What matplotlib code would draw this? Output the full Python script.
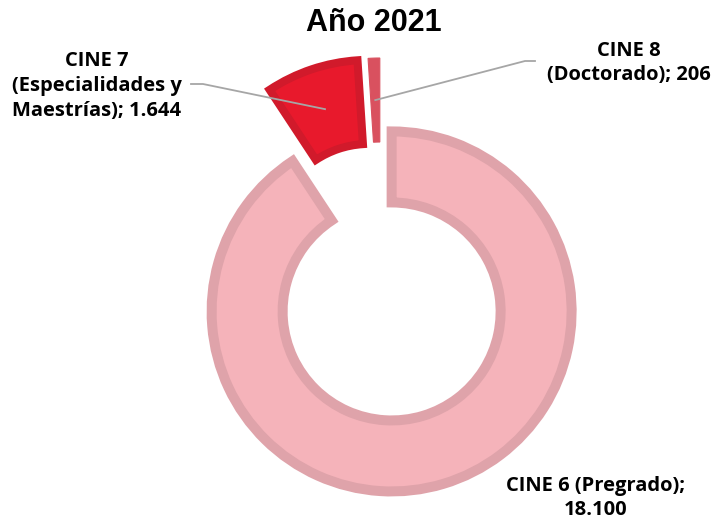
import numpy as np
import matplotlib.pyplot as plt

# datos
categorias = ["CINE 6 (Pregrado)", "CINE 7\n(Especialidades y\nMaestrías)", "CINE 8\n(Doctorado)"]
valores = [18100, 1644, 206]
etiquetas_valor = ["18.100", "1.644", "206"]
titulo = "Año 2021"

colores = ["#F5B3BA", "#E8192C", "#D9515F"]
bordes = ["#DFA3AA", "#D11A2B", "#D9515F"]
grosor = [7.2, 5.8, 0.8]

W, H = 716, 522
fig = plt.figure(figsize=(W / 100, H / 100), dpi=100)
ax = fig.add_axes([0, 0, 1, 1])
ax.set_xlim(0, W)
ax.set_ylim(0, H)
ax.axis("off")

centro = (381, H - 276)
radio = 181
wedges, _ = ax.pie(valores, colors=colores, startangle=90, counterclock=False,
                   radius=radio, center=centro, explode=[37, 37, 37],
                   wedgeprops=dict(width=84))
ax.set_xlim(0, W)
ax.set_ylim(0, H)
ax.set_aspect("equal")

for w, ec, lw in zip(wedges, bordes, grosor):
    w.set_edgecolor(ec)
    w.set_linewidth(lw)
    w.set_joinstyle("miter")
# el anillo grande se ve mas delgado
wedges[0].set_radius(180)
wedges[0].set_width(71)

fuente = dict(family=["Open Sans", "DejaVu Sans"], fontweight="bold", fontsize=14.5, color="black")


def punto_medio(w):
    ang = np.deg2rad((w.theta1 + w.theta2) / 2)
    rm = w.r - w.width / 2
    return w.center[0] + rm * np.cos(ang), w.center[1] + rm * np.sin(ang)


# CINE 7
px, py = punto_medio(wedges[1])
ax.plot([191, 203, px], [H - 84, H - 84, py], color="#A6A6A6", lw=1.3)
ax.text(97, H - 86, categorias[1] + "; " + etiquetas_valor[1], ha="center", va="center",
        linespacing=1.33, **fuente)

# CINE 8
px, py = punto_medio(wedges[2])
ax.plot([535, 525, px], [H - 61, H - 61, py], color="#A6A6A6", lw=1.3)
ax.text(629, H - 63, categorias[2] + "; " + etiquetas_valor[2], ha="center", va="center",
        linespacing=1.33, **fuente)

# CINE 6
ax.text(596, H - 498, categorias[0] + ";\n" + etiquetas_valor[0], ha="center", va="center",
        linespacing=1.33, **fuente)

ax.text(374, H - 23, titulo, ha="center", va="center", fontsize=22, fontweight="bold",
        family=["Liberation Sans", "DejaVu Sans"])

fig.savefig("out.png", dpi=100)
